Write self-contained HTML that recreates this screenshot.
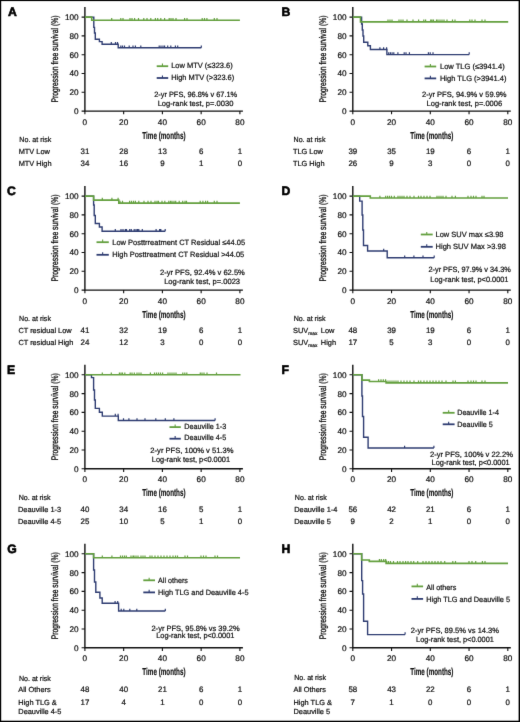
<!DOCTYPE html>
<html><head><meta charset="utf-8"><style>
html,body{margin:0;padding:0;background:#fff;}
svg{display:block;font-family:"Liberation Sans",sans-serif;-webkit-font-smoothing:antialiased;will-change:transform;text-rendering:geometricPrecision;}
text{stroke:#111;fill:#111;stroke-width:0.22px;}
text.b{stroke-width:0.18px;}
text.b0{stroke-width:0.32px;}
text.L{stroke:#000;fill:#000;stroke-width:0.6px;}
</style></head><body>
<svg width="520" height="722" viewBox="0 0 520 722">
<defs><filter id="bl" x="0" y="0" width="520" height="722" filterUnits="userSpaceOnUse" color-interpolation-filters="sRGB"><feConvolveMatrix order="3" kernelMatrix="0.00524 0.06192 0.00524 0.06192 0.73137 0.06192 0.00524 0.06192 0.00524" edgeMode="duplicate"/></filter></defs>
<g filter="url(#bl)">
<rect x="0" y="0" width="520" height="722" fill="#000"/>
<rect x="1.2" y="1.1" width="517.4" height="719.6" fill="#fff"/>
<text x="7.90" y="15.90" font-size="12.2" font-weight="bold" class="L" fill="#000">A</text>
<text transform="rotate(-90)" x="-102.55" y="58.10" font-size="9.6" textLength="86.99" lengthAdjust="spacingAndGlyphs" class="b0" fill="#222">Progression free survival (%)</text>
<path d="M84.90,7.10 V111.10 H242.90" fill="none" stroke="#111" stroke-width="1.4"/>
<path d="M81.60,111.10 H84.90 M81.60,92.30 H84.90 M81.60,73.50 H84.90 M81.60,54.70 H84.90 M81.60,35.90 H84.90 M81.60,17.10 H84.90 M84.90,111.10 V114.30 M123.65,111.10 V114.30 M162.40,111.10 V114.30 M201.15,111.10 V114.30 M239.90,111.10 V114.30 " fill="none" stroke="#111" stroke-width="1.1"/>
<text x="78.60" y="114.00" font-size="8.2" text-anchor="end" fill="#222">0</text>
<text x="78.60" y="95.20" font-size="8.2" text-anchor="end" fill="#222">20</text>
<text x="78.60" y="76.40" font-size="8.2" text-anchor="end" fill="#222">40</text>
<text x="78.60" y="57.60" font-size="8.2" text-anchor="end" fill="#222">60</text>
<text x="78.60" y="38.80" font-size="8.2" text-anchor="end" fill="#222">80</text>
<text x="78.60" y="20.00" font-size="8.2" text-anchor="end" fill="#222">100</text>
<text x="84.90" y="124.60" font-size="8.2" text-anchor="middle" fill="#222">0</text>
<text x="123.65" y="124.60" font-size="8.2" text-anchor="middle" fill="#222">20</text>
<text x="162.40" y="124.60" font-size="8.2" text-anchor="middle" fill="#222">40</text>
<text x="201.15" y="124.60" font-size="8.2" text-anchor="middle" fill="#222">60</text>
<text x="239.90" y="124.60" font-size="8.2" text-anchor="middle" fill="#222">80</text>
<text x="142.35" y="138.50" font-size="10.2" font-weight="bold" class="b" textLength="43.20" lengthAdjust="spacingAndGlyphs" fill="#1a1a1a">Time (months)</text>
<path d="M84.90,17.10 H93.80 V27.40 H94.50 V33.00 H95.30 V39.30 H99.40 V41.60 H102.10 V44.30 H118.20 V47.80 H201.30" fill="none" stroke="#2f3d72" stroke-width="1.4"/>
<path d="M111.30,42.00 V44.30 M115.50,42.00 V44.30 M117.50,42.00 V44.30 M120.80,45.50 V47.80 M122.50,45.50 V47.80 M124.50,45.50 V47.80 M129.20,45.50 V47.80 M133.00,45.50 V47.80 M135.40,45.50 V47.80 M140.80,45.50 V47.80 M159.20,45.50 V47.80 M161.00,45.50 V47.80 M163.00,45.50 V47.80 M164.60,45.50 V47.80 M167.70,45.50 V47.80 M170.80,45.50 V47.80 M175.40,45.50 V47.80 M177.70,45.50 V47.80 M201.30,45.50 V47.80 " fill="none" stroke="#2f3d72" stroke-width="1.2"/>
<path d="M84.90,17.10 H91.70 V20.30 H239.90" fill="none" stroke="#64a03f" stroke-width="1.6"/>
<path d="M111.70,18.00 V20.30 M120.80,18.00 V20.30 M123.00,18.00 V20.30 M130.00,18.00 V20.30 M132.00,18.00 V20.30 M134.60,18.00 V20.30 M138.50,18.00 V20.30 M143.80,18.00 V20.30 M147.00,18.00 V20.30 M150.80,18.00 V20.30 M155.40,18.00 V20.30 M157.70,18.00 V20.30 M160.80,18.00 V20.30 M164.60,18.00 V20.30 M169.20,18.00 V20.30 M171.00,18.00 V20.30 M173.00,18.00 V20.30 M176.00,18.00 V20.30 M184.60,18.00 V20.30 M187.00,18.00 V20.30 M202.20,18.00 V20.30 M204.50,18.00 V20.30 M206.90,18.00 V20.30 M214.30,18.00 V20.30 M217.00,18.00 V20.30 " fill="none" stroke="#64a03f" stroke-width="1.2"/>
<path d="M156.70,66.20 H168.20" fill="none" stroke="#64a03f" stroke-width="1.8"/><path d="M162.45,63.60 V66.20" fill="none" stroke="#64a03f" stroke-width="1.1"/>
<text x="171.15" y="68.00" font-size="7.6" textLength="61.59" lengthAdjust="spacingAndGlyphs" fill="#222">Low MTV (≤323.6)</text>
<path d="M156.70,78.00 H168.20" fill="none" stroke="#2f3d72" stroke-width="1.8"/><path d="M162.45,75.40 V78.00" fill="none" stroke="#2f3d72" stroke-width="1.1"/>
<text x="171.15" y="80.20" font-size="7.6" textLength="63.11" lengthAdjust="spacingAndGlyphs" fill="#222">High MTV (&gt;323.6)</text>
<text x="154.15" y="96.60" font-size="7.6" textLength="83.02" lengthAdjust="spacingAndGlyphs" fill="#222">2-yr PFS, 96.8% v 67.1%</text>
<text x="157.65" y="105.50" font-size="7.6" textLength="75.70" lengthAdjust="spacingAndGlyphs" fill="#222">Log-rank test, p=.0030</text>
<text x="19.35" y="141.80" font-size="7.4" textLength="31.87" lengthAdjust="spacingAndGlyphs" fill="#222">No. at risk</text>
<text x="18.70" y="153.60" font-size="7.4" fill="#222">MTV Low</text>
<text x="84.90" y="153.60" font-size="7.9" text-anchor="middle" fill="#222">31</text>
<text x="123.65" y="153.60" font-size="7.9" text-anchor="middle" fill="#222">28</text>
<text x="162.40" y="153.60" font-size="7.9" text-anchor="middle" fill="#222">13</text>
<text x="201.15" y="153.60" font-size="7.9" text-anchor="middle" fill="#222">6</text>
<text x="239.90" y="153.60" font-size="7.9" text-anchor="middle" fill="#222">1</text>
<text x="18.70" y="166.30" font-size="7.4" fill="#222">MTV High</text>
<text x="84.90" y="166.30" font-size="7.9" text-anchor="middle" fill="#222">34</text>
<text x="123.65" y="166.30" font-size="7.9" text-anchor="middle" fill="#222">16</text>
<text x="162.40" y="166.30" font-size="7.9" text-anchor="middle" fill="#222">9</text>
<text x="201.15" y="166.30" font-size="7.9" text-anchor="middle" fill="#222">1</text>
<text x="239.90" y="166.30" font-size="7.9" text-anchor="middle" fill="#222">0</text>
<text x="281.60" y="16.00" font-size="12.2" font-weight="bold" class="L" fill="#000">B</text>
<text transform="rotate(-90)" x="-102.55" y="326.00" font-size="9.6" textLength="86.99" lengthAdjust="spacingAndGlyphs" class="b0" fill="#222">Progression free survival (%)</text>
<path d="M352.80,7.10 V111.10 H510.80" fill="none" stroke="#111" stroke-width="1.4"/>
<path d="M349.50,111.10 H352.80 M349.50,92.30 H352.80 M349.50,73.50 H352.80 M349.50,54.70 H352.80 M349.50,35.90 H352.80 M349.50,17.10 H352.80 M352.80,111.10 V114.30 M391.55,111.10 V114.30 M430.30,111.10 V114.30 M469.05,111.10 V114.30 M507.80,111.10 V114.30 " fill="none" stroke="#111" stroke-width="1.1"/>
<text x="346.50" y="114.00" font-size="8.2" text-anchor="end" fill="#222">0</text>
<text x="346.50" y="95.20" font-size="8.2" text-anchor="end" fill="#222">20</text>
<text x="346.50" y="76.40" font-size="8.2" text-anchor="end" fill="#222">40</text>
<text x="346.50" y="57.60" font-size="8.2" text-anchor="end" fill="#222">60</text>
<text x="346.50" y="38.80" font-size="8.2" text-anchor="end" fill="#222">80</text>
<text x="346.50" y="20.00" font-size="8.2" text-anchor="end" fill="#222">100</text>
<text x="352.80" y="124.60" font-size="8.2" text-anchor="middle" fill="#222">0</text>
<text x="391.55" y="124.60" font-size="8.2" text-anchor="middle" fill="#222">20</text>
<text x="430.30" y="124.60" font-size="8.2" text-anchor="middle" fill="#222">40</text>
<text x="469.05" y="124.60" font-size="8.2" text-anchor="middle" fill="#222">60</text>
<text x="507.80" y="124.60" font-size="8.2" text-anchor="middle" fill="#222">80</text>
<text x="410.25" y="138.50" font-size="10.2" font-weight="bold" class="b" textLength="43.20" lengthAdjust="spacingAndGlyphs" fill="#1a1a1a">Time (months)</text>
<path d="M352.80,17.10 H361.60 V24.00 H362.30 V30.00 H363.00 V36.00 H363.70 V42.30 H367.80 V45.80 H370.40 V49.50 H386.90 V54.60 H469.20" fill="none" stroke="#2f3d72" stroke-width="1.4"/>
<path d="M379.90,47.20 V49.50 M383.60,47.20 V49.50 M386.60,47.20 V49.50 M388.70,52.30 V54.60 M390.40,52.30 V54.60 M392.10,52.30 V54.60 M393.80,52.30 V54.60 M397.90,52.30 V54.60 M404.20,52.30 V54.60 M406.00,52.30 V54.60 M409.40,52.30 V54.60 M428.40,52.30 V54.60 M430.20,52.30 V54.60 M433.00,52.30 V54.60 M469.20,52.30 V54.60 " fill="none" stroke="#2f3d72" stroke-width="1.2"/>
<path d="M352.80,17.10 H360.50 V21.90 H508.20" fill="none" stroke="#64a03f" stroke-width="1.6"/>
<path d="M388.00,19.60 V21.90 M390.00,19.60 V21.90 M392.00,19.60 V21.90 M399.00,19.60 V21.90 M401.00,19.60 V21.90 M403.00,19.60 V21.90 M407.00,19.60 V21.90 M413.00,19.60 V21.90 M418.60,19.60 V21.90 M423.80,19.60 V21.90 M425.60,19.60 V21.90 M430.70,19.60 V21.90 M432.00,19.60 V21.90 M433.50,19.60 V21.90 M436.50,19.60 V21.90 M438.00,19.60 V21.90 M440.00,19.60 V21.90 M442.00,19.60 V21.90 M444.00,19.60 V21.90 M447.00,19.60 V21.90 M452.50,19.60 V21.90 M455.00,19.60 V21.90 M469.80,19.60 V21.90 M472.00,19.60 V21.90 M475.00,19.60 V21.90 M482.00,19.60 V21.90 M485.00,19.60 V21.90 " fill="none" stroke="#64a03f" stroke-width="1.2"/>
<path d="M424.60,66.50 H436.20" fill="none" stroke="#64a03f" stroke-width="1.8"/><path d="M430.40,63.90 V66.50" fill="none" stroke="#64a03f" stroke-width="1.1"/>
<text x="439.95" y="68.80" font-size="7.6" textLength="64.70" lengthAdjust="spacingAndGlyphs" fill="#222">Low TLG (≤3941.4)</text>
<path d="M424.60,78.40 H436.20" fill="none" stroke="#2f3d72" stroke-width="1.8"/><path d="M430.40,75.80 V78.40" fill="none" stroke="#2f3d72" stroke-width="1.1"/>
<text x="439.95" y="81.00" font-size="7.6" textLength="66.58" lengthAdjust="spacingAndGlyphs" fill="#222">High TLG (&gt;3941.4)</text>
<text x="422.05" y="96.60" font-size="7.6" textLength="84.52" lengthAdjust="spacingAndGlyphs" fill="#222">2-yr PFS, 94.9% v 59.9%</text>
<text x="426.55" y="105.60" font-size="7.6" textLength="75.60" lengthAdjust="spacingAndGlyphs" fill="#222">Log-rank test, p=.0006</text>
<text x="293.55" y="141.90" font-size="7.4" textLength="31.87" lengthAdjust="spacingAndGlyphs" fill="#222">No. at risk</text>
<text x="292.90" y="153.50" font-size="7.4" fill="#222">TLG Low</text>
<text x="352.80" y="153.50" font-size="7.9" text-anchor="middle" fill="#222">39</text>
<text x="391.55" y="153.50" font-size="7.9" text-anchor="middle" fill="#222">35</text>
<text x="430.30" y="153.50" font-size="7.9" text-anchor="middle" fill="#222">19</text>
<text x="469.05" y="153.50" font-size="7.9" text-anchor="middle" fill="#222">6</text>
<text x="507.80" y="153.50" font-size="7.9" text-anchor="middle" fill="#222">1</text>
<text x="292.90" y="166.30" font-size="7.4" fill="#222">TLG High</text>
<text x="352.80" y="166.30" font-size="7.9" text-anchor="middle" fill="#222">26</text>
<text x="391.55" y="166.30" font-size="7.9" text-anchor="middle" fill="#222">9</text>
<text x="430.30" y="166.30" font-size="7.9" text-anchor="middle" fill="#222">3</text>
<text x="469.05" y="166.30" font-size="7.9" text-anchor="middle" fill="#222">0</text>
<text x="507.80" y="166.30" font-size="7.9" text-anchor="middle" fill="#222">0</text>
<text x="6.90" y="195.30" font-size="12.2" font-weight="bold" class="L" fill="#000">C</text>
<text transform="rotate(-90)" x="-281.55" y="58.10" font-size="9.6" textLength="86.99" lengthAdjust="spacingAndGlyphs" class="b0" fill="#222">Progression free survival (%)</text>
<path d="M84.90,186.10 V290.10 H242.90" fill="none" stroke="#111" stroke-width="1.4"/>
<path d="M81.60,290.10 H84.90 M81.60,271.30 H84.90 M81.60,252.50 H84.90 M81.60,233.70 H84.90 M81.60,214.90 H84.90 M81.60,196.10 H84.90 M84.90,290.10 V293.30 M123.65,290.10 V293.30 M162.40,290.10 V293.30 M201.15,290.10 V293.30 M239.90,290.10 V293.30 " fill="none" stroke="#111" stroke-width="1.1"/>
<text x="78.60" y="293.00" font-size="8.2" text-anchor="end" fill="#222">0</text>
<text x="78.60" y="274.20" font-size="8.2" text-anchor="end" fill="#222">20</text>
<text x="78.60" y="255.40" font-size="8.2" text-anchor="end" fill="#222">40</text>
<text x="78.60" y="236.60" font-size="8.2" text-anchor="end" fill="#222">60</text>
<text x="78.60" y="217.80" font-size="8.2" text-anchor="end" fill="#222">80</text>
<text x="78.60" y="199.00" font-size="8.2" text-anchor="end" fill="#222">100</text>
<text x="84.90" y="303.60" font-size="8.2" text-anchor="middle" fill="#222">0</text>
<text x="123.65" y="303.60" font-size="8.2" text-anchor="middle" fill="#222">20</text>
<text x="162.40" y="303.60" font-size="8.2" text-anchor="middle" fill="#222">40</text>
<text x="201.15" y="303.60" font-size="8.2" text-anchor="middle" fill="#222">60</text>
<text x="239.90" y="303.60" font-size="8.2" text-anchor="middle" fill="#222">80</text>
<text x="142.35" y="317.50" font-size="10.2" font-weight="bold" class="b" textLength="43.20" lengthAdjust="spacingAndGlyphs" fill="#1a1a1a">Time (months)</text>
<path d="M84.90,196.10 H93.60 V205.00 H94.20 V215.50 H95.30 V223.50 H99.40 V227.00 H102.10 V231.30 H165.20" fill="none" stroke="#2f3d72" stroke-width="1.4"/>
<path d="M115.30,229.00 V231.30 M121.00,229.00 V231.30 M123.00,229.00 V231.30 M125.30,229.00 V231.30 M126.50,229.00 V231.30 M129.70,229.00 V231.30 M131.30,229.00 V231.30 M134.20,229.00 V231.30 M136.00,229.00 V231.30 M137.50,229.00 V231.30 M138.80,229.00 V231.30 M142.30,229.00 V231.30 M156.10,229.00 V231.30 M159.60,229.00 V231.30 M160.80,229.00 V231.30 M165.20,229.00 V231.30 " fill="none" stroke="#2f3d72" stroke-width="1.2"/>
<path d="M84.90,196.10 H93.60 V200.10 H118.80 V203.10 H239.90" fill="none" stroke="#64a03f" stroke-width="1.6"/>
<path d="M102.30,197.80 V200.10 M111.90,197.80 V200.10 M118.10,197.80 V200.10 M120.00,200.80 V203.10 M122.50,200.80 V203.10 M129.60,200.80 V203.10 M131.50,200.80 V203.10 M133.50,200.80 V203.10 M135.40,200.80 V203.10 M138.80,200.80 V203.10 M144.00,200.80 V203.10 M148.00,200.80 V203.10 M151.00,200.80 V203.10 M155.00,200.80 V203.10 M157.00,200.80 V203.10 M158.50,200.80 V203.10 M162.00,200.80 V203.10 M164.80,200.80 V203.10 M168.80,200.80 V203.10 M170.50,200.80 V203.10 M172.00,200.80 V203.10 M174.00,200.80 V203.10 M175.70,200.80 V203.10 M179.20,200.80 V203.10 M182.70,200.80 V203.10 M185.00,200.80 V203.10 M186.50,200.80 V203.10 M200.20,200.80 V203.10 M202.90,200.80 V203.10 M205.60,200.80 V203.10 M207.60,200.80 V203.10 M214.30,200.80 V203.10 M217.00,200.80 V203.10 " fill="none" stroke="#64a03f" stroke-width="1.2"/>
<path d="M96.50,242.20 H108.80" fill="none" stroke="#64a03f" stroke-width="1.8"/><path d="M102.65,239.60 V242.20" fill="none" stroke="#64a03f" stroke-width="1.1"/>
<text x="112.25" y="244.50" font-size="7.6" textLength="132.81" lengthAdjust="spacingAndGlyphs" fill="#222">Low Posttrreatment CT Residual ≤44.05</text>
<path d="M96.50,254.80 H108.80" fill="none" stroke="#2f3d72" stroke-width="1.8"/><path d="M102.65,252.20 V254.80" fill="none" stroke="#2f3d72" stroke-width="1.1"/>
<text x="112.25" y="256.80" font-size="7.6" textLength="132.01" lengthAdjust="spacingAndGlyphs" fill="#222">High Posttreatment CT Residual &gt;44.05</text>
<text x="159.95" y="274.80" font-size="7.6" textLength="84.92" lengthAdjust="spacingAndGlyphs" fill="#222">2-yr PFS, 92.4% v 62.5%</text>
<text x="164.15" y="283.60" font-size="7.6" textLength="75.90" lengthAdjust="spacingAndGlyphs" fill="#222">Log-rank test, p=.0023</text>
<text x="19.05" y="320.80" font-size="7.4" textLength="31.87" lengthAdjust="spacingAndGlyphs" fill="#222">No. at risk</text>
<text x="18.40" y="332.90" font-size="7.4" fill="#222">CT residual Low</text>
<text x="84.90" y="332.90" font-size="7.9" text-anchor="middle" fill="#222">41</text>
<text x="123.65" y="332.90" font-size="7.9" text-anchor="middle" fill="#222">32</text>
<text x="162.40" y="332.90" font-size="7.9" text-anchor="middle" fill="#222">19</text>
<text x="201.15" y="332.90" font-size="7.9" text-anchor="middle" fill="#222">6</text>
<text x="239.90" y="332.90" font-size="7.9" text-anchor="middle" fill="#222">1</text>
<text x="18.40" y="345.40" font-size="7.4" fill="#222">CT residual High</text>
<text x="84.90" y="345.40" font-size="7.9" text-anchor="middle" fill="#222">24</text>
<text x="123.65" y="345.40" font-size="7.9" text-anchor="middle" fill="#222">12</text>
<text x="162.40" y="345.40" font-size="7.9" text-anchor="middle" fill="#222">3</text>
<text x="201.15" y="345.40" font-size="7.9" text-anchor="middle" fill="#222">0</text>
<text x="239.90" y="345.40" font-size="7.9" text-anchor="middle" fill="#222">0</text>
<text x="281.60" y="195.30" font-size="12.2" font-weight="bold" class="L" fill="#000">D</text>
<text transform="rotate(-90)" x="-281.55" y="326.00" font-size="9.6" textLength="86.99" lengthAdjust="spacingAndGlyphs" class="b0" fill="#222">Progression free survival (%)</text>
<path d="M352.80,186.10 V290.10 H510.80" fill="none" stroke="#111" stroke-width="1.4"/>
<path d="M349.50,290.10 H352.80 M349.50,271.30 H352.80 M349.50,252.50 H352.80 M349.50,233.70 H352.80 M349.50,214.90 H352.80 M349.50,196.10 H352.80 M352.80,290.10 V293.30 M391.55,290.10 V293.30 M430.30,290.10 V293.30 M469.05,290.10 V293.30 M507.80,290.10 V293.30 " fill="none" stroke="#111" stroke-width="1.1"/>
<text x="346.50" y="293.00" font-size="8.2" text-anchor="end" fill="#222">0</text>
<text x="346.50" y="274.20" font-size="8.2" text-anchor="end" fill="#222">20</text>
<text x="346.50" y="255.40" font-size="8.2" text-anchor="end" fill="#222">40</text>
<text x="346.50" y="236.60" font-size="8.2" text-anchor="end" fill="#222">60</text>
<text x="346.50" y="217.80" font-size="8.2" text-anchor="end" fill="#222">80</text>
<text x="346.50" y="199.00" font-size="8.2" text-anchor="end" fill="#222">100</text>
<text x="352.80" y="303.60" font-size="8.2" text-anchor="middle" fill="#222">0</text>
<text x="391.55" y="303.60" font-size="8.2" text-anchor="middle" fill="#222">20</text>
<text x="430.30" y="303.60" font-size="8.2" text-anchor="middle" fill="#222">40</text>
<text x="469.05" y="303.60" font-size="8.2" text-anchor="middle" fill="#222">60</text>
<text x="507.80" y="303.60" font-size="8.2" text-anchor="middle" fill="#222">80</text>
<text x="410.25" y="317.50" font-size="10.2" font-weight="bold" class="b" textLength="43.20" lengthAdjust="spacingAndGlyphs" fill="#1a1a1a">Time (months)</text>
<path d="M352.80,196.10 H359.70 V201.10 H362.10 V215.00 H362.80 V230.00 H363.50 V245.50 H367.60 V251.00 H387.20 V257.80 H434.20" fill="none" stroke="#2f3d72" stroke-width="1.4"/>
<path d="M383.70,248.70 V251.00 M404.70,255.50 V257.80 M413.90,255.50 V257.80 M423.00,255.50 V257.80 M434.20,255.50 V257.80 " fill="none" stroke="#2f3d72" stroke-width="1.2"/>
<path d="M352.80,196.10 H370.30 V198.00 H508.00" fill="none" stroke="#64a03f" stroke-width="1.6"/>
<path d="M379.90,195.70 V198.00 M385.70,195.70 V198.00 M387.60,195.70 V198.00 M389.50,195.70 V198.00 M391.50,195.70 V198.00 M394.30,195.70 V198.00 M398.00,195.70 V198.00 M400.00,195.70 V198.00 M402.00,195.70 V198.00 M404.00,195.70 V198.00 M407.00,195.70 V198.00 M410.00,195.70 V198.00 M414.00,195.70 V198.00 M418.50,195.70 V198.00 M421.00,195.70 V198.00 M424.00,195.70 V198.00 M427.00,195.70 V198.00 M430.00,195.70 V198.00 M437.00,195.70 V198.00 M439.00,195.70 V198.00 M441.00,195.70 V198.00 M443.00,195.70 V198.00 M446.00,195.70 V198.00 M452.00,195.70 V198.00 M455.40,195.70 V198.00 M468.00,195.70 V198.00 M471.00,195.70 V198.00 M473.50,195.70 V198.00 M476.00,195.70 V198.00 M482.00,195.70 V198.00 M484.00,195.70 V198.00 " fill="none" stroke="#64a03f" stroke-width="1.2"/>
<path d="M420.80,234.50 H432.70" fill="none" stroke="#64a03f" stroke-width="1.8"/><path d="M426.75,231.90 V234.50" fill="none" stroke="#64a03f" stroke-width="1.1"/>
<text x="435.55" y="236.90" font-size="7.6" textLength="67.89" lengthAdjust="spacingAndGlyphs" fill="#222">Low SUV max ≤3.98</text>
<path d="M420.80,246.80 H432.70" fill="none" stroke="#2f3d72" stroke-width="1.8"/><path d="M426.75,244.20 V246.80" fill="none" stroke="#2f3d72" stroke-width="1.1"/>
<text x="435.55" y="249.10" font-size="7.6" textLength="70.41" lengthAdjust="spacingAndGlyphs" fill="#222">High SUV Max &gt;3.98</text>
<text x="428.45" y="272.40" font-size="7.6" textLength="82.42" lengthAdjust="spacingAndGlyphs" fill="#222">2-yr PFS, 97.9% v 34.3%</text>
<text x="430.35" y="281.50" font-size="7.6" textLength="78.11" lengthAdjust="spacingAndGlyphs" fill="#222">Log-rank test, p&lt;0.0001</text>
<text x="293.75" y="321.20" font-size="7.4" textLength="31.87" lengthAdjust="spacingAndGlyphs" fill="#222">No. at risk</text>
<text x="293.10" y="332.70" font-size="7.4" fill="#222">SUV<tspan font-size="4.8" dy="1.9">max</tspan><tspan dy="-1.9" dx="1.4"> Low</tspan></text>
<text x="352.80" y="332.70" font-size="7.9" text-anchor="middle" fill="#222">48</text>
<text x="391.55" y="332.70" font-size="7.9" text-anchor="middle" fill="#222">39</text>
<text x="430.30" y="332.70" font-size="7.9" text-anchor="middle" fill="#222">19</text>
<text x="469.05" y="332.70" font-size="7.9" text-anchor="middle" fill="#222">6</text>
<text x="507.80" y="332.70" font-size="7.9" text-anchor="middle" fill="#222">1</text>
<text x="293.10" y="345.20" font-size="7.4" fill="#222">SUV<tspan font-size="4.8" dy="1.9">max</tspan><tspan dy="-1.9" dx="1.4"> High</tspan></text>
<text x="352.80" y="345.20" font-size="7.9" text-anchor="middle" fill="#222">17</text>
<text x="391.55" y="345.20" font-size="7.9" text-anchor="middle" fill="#222">5</text>
<text x="430.30" y="345.20" font-size="7.9" text-anchor="middle" fill="#222">3</text>
<text x="469.05" y="345.20" font-size="7.9" text-anchor="middle" fill="#222">0</text>
<text x="507.80" y="345.20" font-size="7.9" text-anchor="middle" fill="#222">0</text>
<text x="6.90" y="374.00" font-size="12.2" font-weight="bold" class="L" fill="#000">E</text>
<text transform="rotate(-90)" x="-460.25" y="58.10" font-size="9.6" textLength="86.99" lengthAdjust="spacingAndGlyphs" class="b0" fill="#222">Progression free survival (%)</text>
<path d="M84.90,364.80 V468.80 H242.90" fill="none" stroke="#111" stroke-width="1.4"/>
<path d="M81.60,468.80 H84.90 M81.60,450.00 H84.90 M81.60,431.20 H84.90 M81.60,412.40 H84.90 M81.60,393.60 H84.90 M81.60,374.80 H84.90 M84.90,468.80 V472.00 M123.65,468.80 V472.00 M162.40,468.80 V472.00 M201.15,468.80 V472.00 M239.90,468.80 V472.00 " fill="none" stroke="#111" stroke-width="1.1"/>
<text x="78.60" y="471.70" font-size="8.2" text-anchor="end" fill="#222">0</text>
<text x="78.60" y="452.90" font-size="8.2" text-anchor="end" fill="#222">20</text>
<text x="78.60" y="434.10" font-size="8.2" text-anchor="end" fill="#222">40</text>
<text x="78.60" y="415.30" font-size="8.2" text-anchor="end" fill="#222">60</text>
<text x="78.60" y="396.50" font-size="8.2" text-anchor="end" fill="#222">80</text>
<text x="78.60" y="377.70" font-size="8.2" text-anchor="end" fill="#222">100</text>
<text x="84.90" y="482.30" font-size="8.2" text-anchor="middle" fill="#222">0</text>
<text x="123.65" y="482.30" font-size="8.2" text-anchor="middle" fill="#222">20</text>
<text x="162.40" y="482.30" font-size="8.2" text-anchor="middle" fill="#222">40</text>
<text x="201.15" y="482.30" font-size="8.2" text-anchor="middle" fill="#222">60</text>
<text x="239.90" y="482.30" font-size="8.2" text-anchor="middle" fill="#222">80</text>
<text x="142.35" y="496.20" font-size="10.2" font-weight="bold" class="b" textLength="43.20" lengthAdjust="spacingAndGlyphs" fill="#1a1a1a">Time (months)</text>
<path d="M84.90,374.80 H91.50 V377.60 H93.60 V390.00 H94.50 V400.00 H95.30 V408.40 H99.40 V412.20 H102.30 V416.10 H118.30 V420.50 H215.10" fill="none" stroke="#2f3d72" stroke-width="1.4"/>
<path d="M115.30,413.80 V416.10 M118.10,413.80 V416.10 M123.50,418.20 V420.50 M128.90,418.20 V420.50 M137.00,418.20 V420.50 M145.00,418.20 V420.50 M155.80,418.20 V420.50 M165.30,418.20 V420.50 M173.90,418.20 V420.50 M215.10,418.20 V420.50 " fill="none" stroke="#2f3d72" stroke-width="1.2"/>
<path d="M84.90,374.80 H240.50" fill="none" stroke="#64a03f" stroke-width="1.6"/>
<path d="M102.30,372.50 V374.80 M111.30,372.50 V374.80 M119.40,372.50 V374.80 M121.00,372.50 V374.80 M122.50,372.50 V374.80 M124.80,372.50 V374.80 M130.20,372.50 V374.80 M132.00,372.50 V374.80 M134.30,372.50 V374.80 M137.00,372.50 V374.80 M139.00,372.50 V374.80 M141.00,372.50 V374.80 M150.40,372.50 V374.80 M154.50,372.50 V374.80 M156.50,372.50 V374.80 M158.50,372.50 V374.80 M160.50,372.50 V374.80 M162.60,372.50 V374.80 M168.00,372.50 V374.80 M170.00,372.50 V374.80 M172.00,372.50 V374.80 M174.00,372.50 V374.80 M176.00,372.50 V374.80 M182.80,372.50 V374.80 M184.80,372.50 V374.80 M186.80,372.50 V374.80 M200.30,372.50 V374.80 M202.00,372.50 V374.80 M204.00,372.50 V374.80 M207.00,372.50 V374.80 M216.50,372.50 V374.80 " fill="none" stroke="#64a03f" stroke-width="1.2"/>
<path d="M169.50,427.10 H180.80" fill="none" stroke="#64a03f" stroke-width="1.8"/><path d="M175.15,424.50 V427.10" fill="none" stroke="#64a03f" stroke-width="1.1"/>
<text x="184.25" y="428.80" font-size="7.6" textLength="42.01" lengthAdjust="spacingAndGlyphs" fill="#222">Deauville 1-3</text>
<path d="M169.50,438.70 H180.80" fill="none" stroke="#2f3d72" stroke-width="1.8"/><path d="M175.15,436.10 V438.70" fill="none" stroke="#2f3d72" stroke-width="1.1"/>
<text x="184.25" y="440.40" font-size="7.6" textLength="42.01" lengthAdjust="spacingAndGlyphs" fill="#222">Deauville 4-5</text>
<text x="150.35" y="452.80" font-size="7.6" textLength="83.10" lengthAdjust="spacingAndGlyphs" fill="#222">2-yr PFS, 100% v 51.3%</text>
<text x="151.85" y="461.80" font-size="7.6" textLength="78.21" lengthAdjust="spacingAndGlyphs" fill="#222">Log-rank test, p&lt;0.0001</text>
<text x="18.65" y="500.00" font-size="7.4" textLength="31.87" lengthAdjust="spacingAndGlyphs" fill="#222">No. at risk</text>
<text x="18.00" y="511.90" font-size="7.4" fill="#222">Deauville 1-3</text>
<text x="84.90" y="511.90" font-size="7.9" text-anchor="middle" fill="#222">40</text>
<text x="123.65" y="511.90" font-size="7.9" text-anchor="middle" fill="#222">34</text>
<text x="162.40" y="511.90" font-size="7.9" text-anchor="middle" fill="#222">16</text>
<text x="201.15" y="511.90" font-size="7.9" text-anchor="middle" fill="#222">5</text>
<text x="239.90" y="511.90" font-size="7.9" text-anchor="middle" fill="#222">1</text>
<text x="18.00" y="524.40" font-size="7.4" fill="#222">Deauville 4-5</text>
<text x="84.90" y="524.40" font-size="7.9" text-anchor="middle" fill="#222">25</text>
<text x="123.65" y="524.40" font-size="7.9" text-anchor="middle" fill="#222">10</text>
<text x="162.40" y="524.40" font-size="7.9" text-anchor="middle" fill="#222">5</text>
<text x="201.15" y="524.40" font-size="7.9" text-anchor="middle" fill="#222">1</text>
<text x="239.90" y="524.40" font-size="7.9" text-anchor="middle" fill="#222">0</text>
<text x="281.60" y="374.00" font-size="12.2" font-weight="bold" class="L" fill="#000">F</text>
<text transform="rotate(-90)" x="-460.25" y="326.00" font-size="9.6" textLength="86.99" lengthAdjust="spacingAndGlyphs" class="b0" fill="#222">Progression free survival (%)</text>
<path d="M352.80,364.80 V468.80 H510.80" fill="none" stroke="#111" stroke-width="1.4"/>
<path d="M349.50,468.80 H352.80 M349.50,450.00 H352.80 M349.50,431.20 H352.80 M349.50,412.40 H352.80 M349.50,393.60 H352.80 M349.50,374.80 H352.80 M352.80,468.80 V472.00 M391.55,468.80 V472.00 M430.30,468.80 V472.00 M469.05,468.80 V472.00 M507.80,468.80 V472.00 " fill="none" stroke="#111" stroke-width="1.1"/>
<text x="346.50" y="471.70" font-size="8.2" text-anchor="end" fill="#222">0</text>
<text x="346.50" y="452.90" font-size="8.2" text-anchor="end" fill="#222">20</text>
<text x="346.50" y="434.10" font-size="8.2" text-anchor="end" fill="#222">40</text>
<text x="346.50" y="415.30" font-size="8.2" text-anchor="end" fill="#222">60</text>
<text x="346.50" y="396.50" font-size="8.2" text-anchor="end" fill="#222">80</text>
<text x="346.50" y="377.70" font-size="8.2" text-anchor="end" fill="#222">100</text>
<text x="352.80" y="482.30" font-size="8.2" text-anchor="middle" fill="#222">0</text>
<text x="391.55" y="482.30" font-size="8.2" text-anchor="middle" fill="#222">20</text>
<text x="430.30" y="482.30" font-size="8.2" text-anchor="middle" fill="#222">40</text>
<text x="469.05" y="482.30" font-size="8.2" text-anchor="middle" fill="#222">60</text>
<text x="507.80" y="482.30" font-size="8.2" text-anchor="middle" fill="#222">80</text>
<text x="410.25" y="496.20" font-size="10.2" font-weight="bold" class="b" textLength="43.20" lengthAdjust="spacingAndGlyphs" fill="#1a1a1a">Time (months)</text>
<path d="M352.80,374.80 H361.90 V396.00 H362.50 V416.50 H363.60 V437.30 H368.10 V448.00 H433.90" fill="none" stroke="#2f3d72" stroke-width="1.4"/>
<path d="M404.60,445.70 V448.00 M433.90,445.70 V448.00 " fill="none" stroke="#2f3d72" stroke-width="1.2"/>
<path d="M352.80,374.80 H361.90 V380.10 H369.40 V381.50 H386.10 V382.90 H508.00" fill="none" stroke="#64a03f" stroke-width="1.6"/>
<path d="M378.60,379.20 V381.50 M381.00,379.20 V381.50 M383.30,379.20 V381.50 M385.60,379.20 V381.50 M388.00,380.60 V382.90 M390.00,380.60 V382.90 M392.00,380.60 V382.90 M394.00,380.60 V382.90 M396.00,380.60 V382.90 M398.00,380.60 V382.90 M401.00,380.60 V382.90 M404.00,380.60 V382.90 M407.00,380.60 V382.90 M410.00,380.60 V382.90 M414.00,380.60 V382.90 M418.50,380.60 V382.90 M420.80,380.60 V382.90 M424.00,380.60 V382.90 M427.00,380.60 V382.90 M430.00,380.60 V382.90 M433.00,380.60 V382.90 M436.00,380.60 V382.90 M439.00,380.60 V382.90 M442.00,380.60 V382.90 M446.00,380.60 V382.90 M453.00,380.60 V382.90 M455.40,380.60 V382.90 M468.00,380.60 V382.90 M471.00,380.60 V382.90 M473.50,380.60 V382.90 M476.00,380.60 V382.90 M482.00,380.60 V382.90 M485.00,380.60 V382.90 " fill="none" stroke="#64a03f" stroke-width="1.2"/>
<path d="M442.70,412.80 H454.60" fill="none" stroke="#64a03f" stroke-width="1.8"/><path d="M448.65,410.20 V412.80" fill="none" stroke="#64a03f" stroke-width="1.1"/>
<text x="457.25" y="415.00" font-size="7.6" textLength="41.61" lengthAdjust="spacingAndGlyphs" fill="#222">Deauville 1-4</text>
<path d="M442.70,424.30 H454.60" fill="none" stroke="#2f3d72" stroke-width="1.8"/><path d="M448.65,421.70 V424.30" fill="none" stroke="#2f3d72" stroke-width="1.1"/>
<text x="457.25" y="426.50" font-size="7.6" textLength="35.52" lengthAdjust="spacingAndGlyphs" fill="#222">Deauville 5</text>
<text x="429.95" y="456.50" font-size="7.6" textLength="83.00" lengthAdjust="spacingAndGlyphs" fill="#222">2-yr PFS, 100% v 22.2%</text>
<text x="431.55" y="464.70" font-size="7.6" textLength="78.11" lengthAdjust="spacingAndGlyphs" fill="#222">Log-rank test, p&lt;0.0001</text>
<text x="294.85" y="500.00" font-size="7.4" textLength="31.87" lengthAdjust="spacingAndGlyphs" fill="#222">No. at risk</text>
<text x="294.20" y="511.50" font-size="7.4" fill="#222">Deauville 1-4</text>
<text x="352.80" y="511.50" font-size="7.9" text-anchor="middle" fill="#222">56</text>
<text x="391.55" y="511.50" font-size="7.9" text-anchor="middle" fill="#222">42</text>
<text x="430.30" y="511.50" font-size="7.9" text-anchor="middle" fill="#222">21</text>
<text x="469.05" y="511.50" font-size="7.9" text-anchor="middle" fill="#222">6</text>
<text x="507.80" y="511.50" font-size="7.9" text-anchor="middle" fill="#222">1</text>
<text x="294.20" y="524.40" font-size="7.4" fill="#222">Deauville 5</text>
<text x="352.80" y="524.40" font-size="7.9" text-anchor="middle" fill="#222">9</text>
<text x="391.55" y="524.40" font-size="7.9" text-anchor="middle" fill="#222">2</text>
<text x="430.30" y="524.40" font-size="7.9" text-anchor="middle" fill="#222">1</text>
<text x="469.05" y="524.40" font-size="7.9" text-anchor="middle" fill="#222">0</text>
<text x="507.80" y="524.40" font-size="7.9" text-anchor="middle" fill="#222">0</text>
<text x="7.20" y="553.00" font-size="12.2" font-weight="bold" class="L" fill="#000">G</text>
<text transform="rotate(-90)" x="-639.25" y="58.10" font-size="9.6" textLength="86.99" lengthAdjust="spacingAndGlyphs" class="b0" fill="#222">Progression free survival (%)</text>
<path d="M84.90,543.80 V647.80 H242.90" fill="none" stroke="#111" stroke-width="1.4"/>
<path d="M81.60,647.80 H84.90 M81.60,629.00 H84.90 M81.60,610.20 H84.90 M81.60,591.40 H84.90 M81.60,572.60 H84.90 M81.60,553.80 H84.90 M84.90,647.80 V651.00 M123.65,647.80 V651.00 M162.40,647.80 V651.00 M201.15,647.80 V651.00 M239.90,647.80 V651.00 " fill="none" stroke="#111" stroke-width="1.1"/>
<text x="78.60" y="650.70" font-size="8.2" text-anchor="end" fill="#222">0</text>
<text x="78.60" y="631.90" font-size="8.2" text-anchor="end" fill="#222">20</text>
<text x="78.60" y="613.10" font-size="8.2" text-anchor="end" fill="#222">40</text>
<text x="78.60" y="594.30" font-size="8.2" text-anchor="end" fill="#222">60</text>
<text x="78.60" y="575.50" font-size="8.2" text-anchor="end" fill="#222">80</text>
<text x="78.60" y="556.70" font-size="8.2" text-anchor="end" fill="#222">100</text>
<text x="84.90" y="661.30" font-size="8.2" text-anchor="middle" fill="#222">0</text>
<text x="123.65" y="661.30" font-size="8.2" text-anchor="middle" fill="#222">20</text>
<text x="162.40" y="661.30" font-size="8.2" text-anchor="middle" fill="#222">40</text>
<text x="201.15" y="661.30" font-size="8.2" text-anchor="middle" fill="#222">60</text>
<text x="239.90" y="661.30" font-size="8.2" text-anchor="middle" fill="#222">80</text>
<text x="142.35" y="675.20" font-size="10.2" font-weight="bold" class="b" textLength="43.20" lengthAdjust="spacingAndGlyphs" fill="#1a1a1a">Time (months)</text>
<path d="M84.90,553.80 H93.60 V570.00 H94.50 V582.00 H95.80 V592.30 H99.90 V598.00 H102.20 V603.20 H118.60 V611.00 H165.30" fill="none" stroke="#2f3d72" stroke-width="1.4"/>
<path d="M115.10,600.90 V603.20 M117.70,600.90 V603.20 M121.20,608.70 V611.00 M123.80,608.70 V611.00 M129.80,608.70 V611.00 M136.80,608.70 V611.00 M165.30,608.70 V611.00 " fill="none" stroke="#2f3d72" stroke-width="1.2"/>
<path d="M84.90,553.80 H93.60 V557.70 H240.00" fill="none" stroke="#64a03f" stroke-width="1.6"/>
<path d="M102.30,555.40 V557.70 M111.90,555.40 V557.70 M120.50,555.40 V557.70 M122.50,555.40 V557.70 M124.50,555.40 V557.70 M126.30,555.40 V557.70 M131.00,555.40 V557.70 M133.00,555.40 V557.70 M134.00,555.40 V557.70 M136.00,555.40 V557.70 M138.00,555.40 V557.70 M141.00,555.40 V557.70 M143.00,555.40 V557.70 M145.00,555.40 V557.70 M150.00,555.40 V557.70 M152.00,555.40 V557.70 M155.00,555.40 V557.70 M158.00,555.40 V557.70 M161.00,555.40 V557.70 M164.00,555.40 V557.70 M167.00,555.40 V557.70 M170.00,555.40 V557.70 M173.00,555.40 V557.70 M175.50,555.40 V557.70 M177.50,555.40 V557.70 M185.00,555.40 V557.70 M187.50,555.40 V557.70 M201.00,555.40 V557.70 M203.50,555.40 V557.70 M206.00,555.40 V557.70 M215.00,555.40 V557.70 M217.50,555.40 V557.70 " fill="none" stroke="#64a03f" stroke-width="1.2"/>
<path d="M143.30,580.30 H155.00" fill="none" stroke="#64a03f" stroke-width="1.8"/><path d="M149.15,577.70 V580.30" fill="none" stroke="#64a03f" stroke-width="1.1"/>
<text x="158.05" y="583.30" font-size="7.6" textLength="29.79" lengthAdjust="spacingAndGlyphs" fill="#222">All others</text>
<path d="M143.30,592.40 H155.00" fill="none" stroke="#2f3d72" stroke-width="1.8"/><path d="M149.15,589.80 V592.40" fill="none" stroke="#2f3d72" stroke-width="1.1"/>
<text x="158.05" y="595.00" font-size="7.6" textLength="90.42" lengthAdjust="spacingAndGlyphs" fill="#222">High TLG and Deauville 4-5</text>
<text x="151.45" y="630.50" font-size="7.6" textLength="88.22" lengthAdjust="spacingAndGlyphs" fill="#222">2-yr PFS, 95.8% vs 39.2%</text>
<text x="156.25" y="638.40" font-size="7.6" textLength="78.11" lengthAdjust="spacingAndGlyphs" fill="#222">Log-rank test, p&lt;0.0001</text>
<text x="18.95" y="680.50" font-size="7.4" textLength="31.87" lengthAdjust="spacingAndGlyphs" fill="#222">No. at risk</text>
<text x="18.30" y="691.90" font-size="7.4" fill="#222">All Others</text>
<text x="84.90" y="691.90" font-size="7.9" text-anchor="middle" fill="#222">48</text>
<text x="123.65" y="691.90" font-size="7.9" text-anchor="middle" fill="#222">40</text>
<text x="162.40" y="691.90" font-size="7.9" text-anchor="middle" fill="#222">21</text>
<text x="201.15" y="691.90" font-size="7.9" text-anchor="middle" fill="#222">6</text>
<text x="239.90" y="691.90" font-size="7.9" text-anchor="middle" fill="#222">1</text>
<text x="18.30" y="705.10" font-size="7.4" fill="#222">High TLG &amp;</text>
<text x="18.30" y="714.10" font-size="7.4" fill="#222">Deauville 4-5</text>
<text x="84.90" y="705.10" font-size="7.9" text-anchor="middle" fill="#222">17</text>
<text x="123.65" y="705.10" font-size="7.9" text-anchor="middle" fill="#222">4</text>
<text x="162.40" y="705.10" font-size="7.9" text-anchor="middle" fill="#222">1</text>
<text x="201.15" y="705.10" font-size="7.9" text-anchor="middle" fill="#222">0</text>
<text x="239.90" y="705.10" font-size="7.9" text-anchor="middle" fill="#222">0</text>
<text x="281.60" y="553.00" font-size="12.2" font-weight="bold" class="L" fill="#000">H</text>
<text transform="rotate(-90)" x="-639.25" y="326.00" font-size="9.6" textLength="86.99" lengthAdjust="spacingAndGlyphs" class="b0" fill="#222">Progression free survival (%)</text>
<path d="M352.80,543.80 V647.80 H510.80" fill="none" stroke="#111" stroke-width="1.4"/>
<path d="M349.50,647.80 H352.80 M349.50,629.00 H352.80 M349.50,610.20 H352.80 M349.50,591.40 H352.80 M349.50,572.60 H352.80 M349.50,553.80 H352.80 M352.80,647.80 V651.00 M391.55,647.80 V651.00 M430.30,647.80 V651.00 M469.05,647.80 V651.00 M507.80,647.80 V651.00 " fill="none" stroke="#111" stroke-width="1.1"/>
<text x="346.50" y="650.70" font-size="8.2" text-anchor="end" fill="#222">0</text>
<text x="346.50" y="631.90" font-size="8.2" text-anchor="end" fill="#222">20</text>
<text x="346.50" y="613.10" font-size="8.2" text-anchor="end" fill="#222">40</text>
<text x="346.50" y="594.30" font-size="8.2" text-anchor="end" fill="#222">60</text>
<text x="346.50" y="575.50" font-size="8.2" text-anchor="end" fill="#222">80</text>
<text x="346.50" y="556.70" font-size="8.2" text-anchor="end" fill="#222">100</text>
<text x="352.80" y="661.30" font-size="8.2" text-anchor="middle" fill="#222">0</text>
<text x="391.55" y="661.30" font-size="8.2" text-anchor="middle" fill="#222">20</text>
<text x="430.30" y="661.30" font-size="8.2" text-anchor="middle" fill="#222">40</text>
<text x="469.05" y="661.30" font-size="8.2" text-anchor="middle" fill="#222">60</text>
<text x="507.80" y="661.30" font-size="8.2" text-anchor="middle" fill="#222">80</text>
<text x="410.25" y="675.20" font-size="10.2" font-weight="bold" class="b" textLength="43.20" lengthAdjust="spacingAndGlyphs" fill="#1a1a1a">Time (months)</text>
<path d="M352.80,553.80 H361.70 V580.60 H362.60 V594.00 H363.60 V621.20 H367.60 V634.60 H405.10" fill="none" stroke="#2f3d72" stroke-width="1.4"/>
<path d="M405.10,632.30 V634.60 " fill="none" stroke="#2f3d72" stroke-width="1.2"/>
<path d="M352.80,553.80 H361.60 V560.00 H369.30 V561.40 H386.10 V563.40 H508.00" fill="none" stroke="#64a03f" stroke-width="1.6"/>
<path d="M379.40,559.10 V561.40 M381.30,559.10 V561.40 M383.70,559.10 V561.40 M385.70,559.10 V561.40 M386.70,561.10 V563.40 M388.50,561.10 V563.40 M390.50,561.10 V563.40 M393.50,561.10 V563.40 M397.50,561.10 V563.40 M400.00,561.10 V563.40 M403.00,561.10 V563.40 M405.60,561.10 V563.40 M408.00,561.10 V563.40 M411.00,561.10 V563.40 M413.70,561.10 V563.40 M417.70,561.10 V563.40 M423.00,561.10 V563.40 M426.00,561.10 V563.40 M429.00,561.10 V563.40 M432.00,561.10 V563.40 M435.00,561.10 V563.40 M438.00,561.10 V563.40 M441.00,561.10 V563.40 M444.70,561.10 V563.40 M452.80,561.10 V563.40 M455.50,561.10 V563.40 M469.00,561.10 V563.40 M472.00,561.10 V563.40 M475.70,561.10 V563.40 M482.40,561.10 V563.40 M485.00,561.10 V563.40 " fill="none" stroke="#64a03f" stroke-width="1.2"/>
<path d="M411.50,586.40 H423.10" fill="none" stroke="#64a03f" stroke-width="1.8"/><path d="M417.30,583.80 V586.40" fill="none" stroke="#64a03f" stroke-width="1.1"/>
<text x="426.25" y="590.00" font-size="7.6" textLength="29.99" lengthAdjust="spacingAndGlyphs" fill="#222">All others</text>
<path d="M411.50,598.90 H423.10" fill="none" stroke="#2f3d72" stroke-width="1.8"/><path d="M417.30,596.30 V598.90" fill="none" stroke="#2f3d72" stroke-width="1.1"/>
<text x="426.25" y="602.00" font-size="7.6" textLength="83.78" lengthAdjust="spacingAndGlyphs" fill="#222">High TLG and Deauville 5</text>
<text x="410.75" y="633.00" font-size="7.6" textLength="88.22" lengthAdjust="spacingAndGlyphs" fill="#222">2-yr PFS, 89.5% vs 14.3%</text>
<text x="416.05" y="642.30" font-size="7.6" textLength="77.81" lengthAdjust="spacingAndGlyphs" fill="#222">Log-rank test, p&lt;0.0001</text>
<text x="294.15" y="680.40" font-size="7.4" textLength="31.87" lengthAdjust="spacingAndGlyphs" fill="#222">No. at risk</text>
<text x="293.50" y="691.90" font-size="7.4" fill="#222">All Others</text>
<text x="352.80" y="691.90" font-size="7.9" text-anchor="middle" fill="#222">58</text>
<text x="391.55" y="691.90" font-size="7.9" text-anchor="middle" fill="#222">43</text>
<text x="430.30" y="691.90" font-size="7.9" text-anchor="middle" fill="#222">22</text>
<text x="469.05" y="691.90" font-size="7.9" text-anchor="middle" fill="#222">6</text>
<text x="507.80" y="691.90" font-size="7.9" text-anchor="middle" fill="#222">1</text>
<text x="293.50" y="705.00" font-size="7.4" fill="#222">High TLG &amp;</text>
<text x="293.50" y="714.00" font-size="7.4" fill="#222">Deauville 5</text>
<text x="352.80" y="705.00" font-size="7.9" text-anchor="middle" fill="#222">7</text>
<text x="391.55" y="705.00" font-size="7.9" text-anchor="middle" fill="#222">1</text>
<text x="430.30" y="705.00" font-size="7.9" text-anchor="middle" fill="#222">0</text>
<text x="469.05" y="705.00" font-size="7.9" text-anchor="middle" fill="#222">0</text>
<text x="507.80" y="705.00" font-size="7.9" text-anchor="middle" fill="#222">0</text>
</g>
</svg>
</body></html>
